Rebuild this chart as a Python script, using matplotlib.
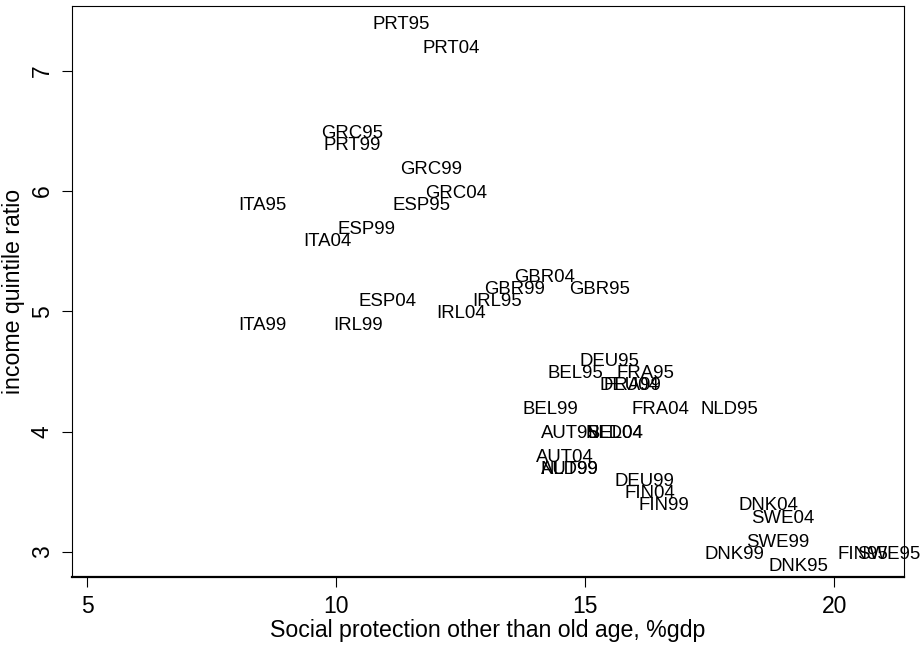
import matplotlib
matplotlib.use('Agg')
import matplotlib.pyplot as plt

plt.rcParams['font.family'] = ['Liberation Sans', 'DejaVu Sans']

# country-year labels, social protection (x) and income quintile ratio (y)
labels = ['PRT95', 'PRT04', 'GRC95', 'PRT99', 'GRC99', 'GRC04', 'ITA95', 'ESP95',
          'ESP99', 'ITA04', 'ESP04', 'IRL04', 'IRL95', 'ITA99', 'IRL99', 'GBR04',
          'GBR99', 'GBR95', 'DEU95', 'BEL95', 'FRA95', 'DEU04', 'FRA99', 'BEL99',
          'FRA04', 'NLD95', 'AUT95', 'BEL04', 'NLD04', 'AUT04', 'AUT99', 'NLD99',
          'DEU99', 'FIN04', 'FIN99', 'DNK04', 'SWE04', 'SWE99', 'DNK99', 'DNK95',
          'FIN95', 'SWE95']
social_prot = [10.65, 11.65, 9.62, 9.65, 11.2, 11.7, 7.95, 11.04,
               9.95, 9.25, 10.36, 11.93, 12.65, 7.95, 9.85, 13.49,
               12.89, 14.6, 14.81, 14.16, 15.54, 15.21, 15.28, 13.66,
               15.84, 17.23, 14.03, 14.96, 14.93, 13.93, 14.02, 14.02,
               15.51, 15.71, 15.99, 17.99, 18.24, 18.15, 17.31, 18.6,
               19.99, 20.37]
income_ratio = [7.4, 7.2, 6.5, 6.4, 6.2, 6.0, 5.9, 5.9,
                5.7, 5.6, 5.1, 5.0, 5.1, 4.9, 4.9, 5.3,
                5.2, 5.2, 4.6, 4.5, 4.5, 4.4, 4.4, 4.2,
                4.2, 4.2, 4.0, 4.0, 4.0, 3.8, 3.7, 3.7,
                3.6, 3.5, 3.4, 3.4, 3.3, 3.1, 3.0, 2.9,
                3.0, 3.0]

fig = plt.figure(figsize=(9.23, 6.48), dpi=100)
ax = fig.add_axes([0.078, 0.110, 0.9017, 0.8807])

# labels placed to the right of each (invisible) point
for lab, x, y in zip(labels, social_prot, income_ratio):
    ax.annotate(lab, (x, y), xytext=(3, -4.8), textcoords='offset points',
                ha='left', va='baseline', fontsize=13.4, color='black',
                annotation_clip=False)

ax.set_xlim(4.693, 21.406)
ax.set_ylim(2.794, 7.538)
ax.set_xticks([5, 10, 15, 20])
ax.set_yticks([3, 4, 5, 6, 7])
ax.tick_params(axis='both', direction='out', length=7, width=0.8,
               labelsize=16.5, pad=6)
for t in ax.get_yticklabels():
    t.set_rotation(90)
    t.set_va('center')

ax.set_xlabel('Social protection other than old age, %gdp', fontsize=16.7, labelpad=1)
ax.set_ylabel('income quintile ratio', fontsize=16.7, labelpad=4)

for side in ['top', 'right', 'left']:
    ax.spines[side].set_linewidth(0.8)
ax.spines['bottom'].set_linewidth(1.6)

fig.savefig('out.png', dpi=100)
